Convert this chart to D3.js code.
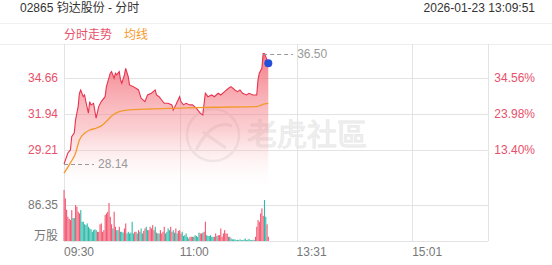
<!DOCTYPE html>
<html><head><meta charset="utf-8">
<script src="https://cdn.jsdelivr.net/npm/d3@7"></script>
<style>html,body{margin:0;padding:0;background:#fff;}svg{display:block;font-family:"Liberation Sans","Noto Sans CJK SC",sans-serif;}</style>
</head><body><svg id="c" width="552" height="265"></svg>
<script>
// ---- data ----
const title = "02865 钧达股份 - 分时";
const stamp = "2026-01-23  13:09:51";
const legendLabels = ["分时走势", "均线"];
const timeLabels = ["09:30", "11:00", "13:31", "15:01"];
const timeTickMinutes = [0, 90, 181, 271];
const totalMinutes = 330;
const priceTicks = [29.21, 31.94, 34.66];
const pctLabels = ["13.40%", "23.98%", "34.56%"];
const priceDomain = [26.48, 37.38];
const highPrice = 36.50, highMinute = 155;
const lowPrice = 28.14, lowMinute = 0;
const volTick = 86.35;
const volUnit = "万股";
const volMax = 122;
const priceMinutes = [0,3,5,6,8,9,11,12,13,15,16,17,19,20,21,23,25,27,29,32,33,36,37,39,40,41,43,44,45,47,48,50,51,54,56,58,60,63,65,68,71,72,74,76,78,81,84,85,87,90,91,93,95,98,100,103,104,106,108,110,112,115,117,120,122,125,128,130,133,135,137,139,142,144,147,150,151,152,154,155,156,157,159];
const priceValues = [28.14,28.98,29.21,30.22,30.50,31.48,32.49,33.50,33.75,33.24,33.37,32.87,31.99,32.87,32.62,32.74,31.61,32.49,32.87,33.24,34.00,35.02,35.14,34.64,35.02,34.89,35.14,34.51,34.26,34.89,35.39,34.76,34.13,34.00,33.88,33.75,33.12,32.87,33.37,33.50,33.75,33.37,33.24,32.99,32.74,32.74,32.62,32.24,32.62,33.24,32.87,32.62,32.74,32.62,32.62,32.37,32.24,31.99,31.86,33.50,33.24,33.37,33.24,33.50,33.37,33.62,33.88,34.00,33.75,33.62,33.75,33.50,33.37,33.50,33.37,33.37,34.51,35.02,35.39,36.50,36.50,36.27,35.77];
const avgMinutes = [0,5,9,12,16,20,25,30,34,38,43,51,67,90,116,150,156,159];
const avgValues = [27.45,28.23,28.96,29.97,30.47,30.72,30.85,31.10,31.48,31.86,32.11,32.24,32.31,32.37,32.44,32.49,32.69,32.74];
const volValues = [122,102,75,58,53,50,74,55,55,86,82,70,66,74,46,46,40,38,42,34,30,28,22,26,28,26,22,22,40,42,22,26,62,66,70,91,58,40,30,70,34,26,26,34,22,22,20,30,42,18,22,18,20,46,18,22,22,18,26,22,30,18,24,30,34,26,26,34,30,38,26,34,20,18,18,26,18,22,34,18,22,30,26,34,22,26,20,30,18,24,26,18,22,12,14,18,10,6,10,10,10,10,14,12,10,20,18,18,20,22,46,14,12,12,14,10,10,10,18,12,14,14,30,10,18,26,18,18,10,10,6,4,4,4,2,3,2,4,2,2,3,6,2,3,5,2,2,3,2,10,34,50,46,66,78,60,98,58,40,10];
const volUp = [1,1,1,1,1,1,1,0,0,1,1,1,1,0,0,0,0,0,0,0,0,0,0,0,0,0,1,1,1,1,1,1,1,1,1,1,1,1,0,1,1,0,0,1,0,0,0,1,1,0,0,0,0,0,0,1,1,0,1,0,0,0,1,1,0,0,1,1,1,1,1,0,0,1,0,1,1,1,1,0,0,0,0,1,1,0,0,1,0,1,1,1,0,0,0,0,0,0,1,1,0,1,0,0,0,0,1,1,0,1,1,0,0,0,0,0,0,1,1,0,1,1,1,1,1,1,1,1,0,1,0,0,0,0,0,0,0,0,0,0,0,0,0,0,0,0,0,0,0,1,1,1,1,1,1,1,0,0,1,1];
const watermark = "老虎社區";

// ---- colors ----
const RED = "#e8334f", LABELRED = "#e8506a", ORANGE = "#f39a2e", GRID = "#e3e3e3", TXT = "#777";
const VUP = "#f25670", VDN = "#2fbaa8";

const svg = d3.select("#c");
const L = 64, R = 488, TOP = 44, MAINB = 186, VB = 241, VT = 190;
const x = d3.scaleLinear().domain([0, totalMinutes]).range([L, R]);
const y = d3.scaleLinear().domain(priceDomain).range([MAINB, 42]);
const yv = d3.scaleLinear().domain([0, volMax]).range([VB, VT]);

// header
svg.append("text").attr("x", 20).attr("y", 12).attr("font-size", 12).attr("fill", "#333").text(title);
svg.append("text").attr("x", 535).attr("y", 12).attr("font-size", 12).attr("fill", "#333").attr("text-anchor", "end").text(stamp);
svg.append("line").attr("x1", 0).attr("x2", 552).attr("y1", 23.5).attr("y2", 23.5).attr("stroke", "#f0f0f0");
svg.append("line").attr("x1", 0).attr("x2", 552).attr("y1", 44.5).attr("y2", 44.5).attr("stroke", "#eeeeee");
svg.append("text").attr("x", 64).attr("y", 39).attr("font-size", 12).attr("fill", LABELRED).text(legendLabels[0]);
svg.append("text").attr("x", 124).attr("y", 39).attr("font-size", 12).attr("fill", ORANGE).text(legendLabels[1]);

// grid
const g = svg.append("g");
timeTickMinutes.concat([totalMinutes]).forEach(m => {
  const xx = Math.round(x(m)) + 0.5;
  g.append("line").attr("x1", xx).attr("x2", xx).attr("y1", TOP).attr("y2", VB).attr("stroke", GRID);
});
priceTicks.forEach(p => {
  const yy = Math.round(y(p)) + 0.5;
  g.append("line").attr("x1", L).attr("x2", R).attr("y1", yy).attr("y2", yy).attr("stroke", GRID);
});
[volTick, 0].forEach(v => {
  const yy = Math.round(yv(v)) + 0.5;
  g.append("line").attr("x1", L).attr("x2", R).attr("y1", yy).attr("y2", yy).attr("stroke", GRID);
});

// watermark
const wm = svg.append("g").attr("opacity", 0.9);
wm.append("circle").attr("cx", 213).attr("cy", 135).attr("r", 26).attr("fill", "none").attr("stroke", "#ececec").attr("stroke-width", 2.5);
wm.append("path").attr("d", "M196,150 Q213,118 232,126 M203,132 Q214,140 226,148").attr("fill", "none").attr("stroke", "#ececec").attr("stroke-width", 3);
wm.append("text").attr("x", 247).attr("y", 145).attr("font-size", 30).attr("fill", "#f0f0f0").attr("stroke", "#e6e6e6").attr("stroke-width", 0.8).attr("font-family", "Noto Sans CJK TC").text(watermark);

// area gradient
const defs = svg.append("defs");
const grad = defs.append("linearGradient").attr("id", "ag").attr("gradientUnits", "userSpaceOnUse")
  .attr("x1", 0).attr("x2", 0).attr("y1", y(highPrice)).attr("y2", MAINB + 6);
grad.append("stop").attr("offset", 0).attr("stop-color", "#f0505f").attr("stop-opacity", 0.75);
grad.append("stop").attr("offset", 0.55).attr("stop-color", "#f5888f").attr("stop-opacity", 0.4);
grad.append("stop").attr("offset", 1).attr("stop-color", "#ffffff").attr("stop-opacity", 0);

const pts = priceMinutes.map((m, i) => [m, priceValues[i]]);
const area = d3.area().x(d => x(d[0])).y0(MAINB + 6).y1(d => y(d[1]));
svg.append("path").attr("d", area(pts)).attr("fill", "url(#ag)");
svg.append("path").attr("d", d3.line().x(d => x(d[0])).y(d => y(d[1]))(pts))
  .attr("fill", "none").attr("stroke", RED).attr("stroke-width", 1.1);

const apts = avgMinutes.map((m, i) => [m, avgValues[i]]);
svg.append("path").attr("d", d3.line().curve(d3.curveMonotoneX).x(d => x(d[0])).y(d => y(d[1]))(apts))
  .attr("fill", "none").attr("stroke", ORANGE).attr("stroke-width", 1.3);

// volume bars
svg.append("g").selectAll("rect").data(volValues).join("rect")
  .attr("x", (d, i) => x(i) - 0.5)
  .attr("width", 1.1)
  .attr("y", d => yv(d))
  .attr("height", d => yv(0) - yv(d))
  .attr("fill", (d, i) => volUp[i] ? VUP : VDN);

// hi / lo markers
svg.append("line").attr("x1", x(highMinute)).attr("x2", x(highMinute) + 30).attr("y1", Math.round(y(highPrice)) + 0.5).attr("y2", Math.round(y(highPrice)) + 0.5)
  .attr("stroke", "#999").attr("stroke-dasharray", "4,3");
svg.append("text").attr("x", x(highMinute) + 34).attr("y", y(highPrice) + 4).attr("font-size", 12).attr("fill", "#999").text(highPrice.toFixed(2));
svg.append("line").attr("x1", x(lowMinute)).attr("x2", x(lowMinute) + 30).attr("y1", Math.round(y(lowPrice)) + 0.5).attr("y2", Math.round(y(lowPrice)) + 0.5)
  .attr("stroke", "#999").attr("stroke-dasharray", "4,3");
svg.append("text").attr("x", x(lowMinute) + 34).attr("y", y(lowPrice) + 4).attr("font-size", 12).attr("fill", "#999").text(lowPrice.toFixed(2));

// last point dot
const last = pts[pts.length - 1];
svg.append("circle").attr("cx", x(last[0])).attr("cy", y(last[1])).attr("r", 4).attr("fill", "#2350d8");

// axes labels
priceTicks.forEach((p, i) => {
  svg.append("text").attr("x", 58).attr("y", y(p) + 4).attr("font-size", 12).attr("fill", LABELRED).attr("text-anchor", "end").text(p.toFixed(2));
  svg.append("text").attr("x", 535).attr("y", y(p) + 4).attr("font-size", 12).attr("fill", LABELRED).attr("text-anchor", "end").text(pctLabels[i]);
});
svg.append("text").attr("x", 58).attr("y", yv(volTick) + 4).attr("font-size", 12).attr("fill", TXT).attr("text-anchor", "end").text(volTick.toFixed(2));
svg.append("text").attr("x", 58).attr("y", VB - 1).attr("font-size", 12).attr("fill", TXT).attr("text-anchor", "end").text(volUnit);
timeTickMinutes.forEach((m, i) => {
  svg.append("text").attr("x", x(m)).attr("y", 256).attr("font-size", 12).attr("fill", TXT).text(timeLabels[i]);
});
</script></body></html>
